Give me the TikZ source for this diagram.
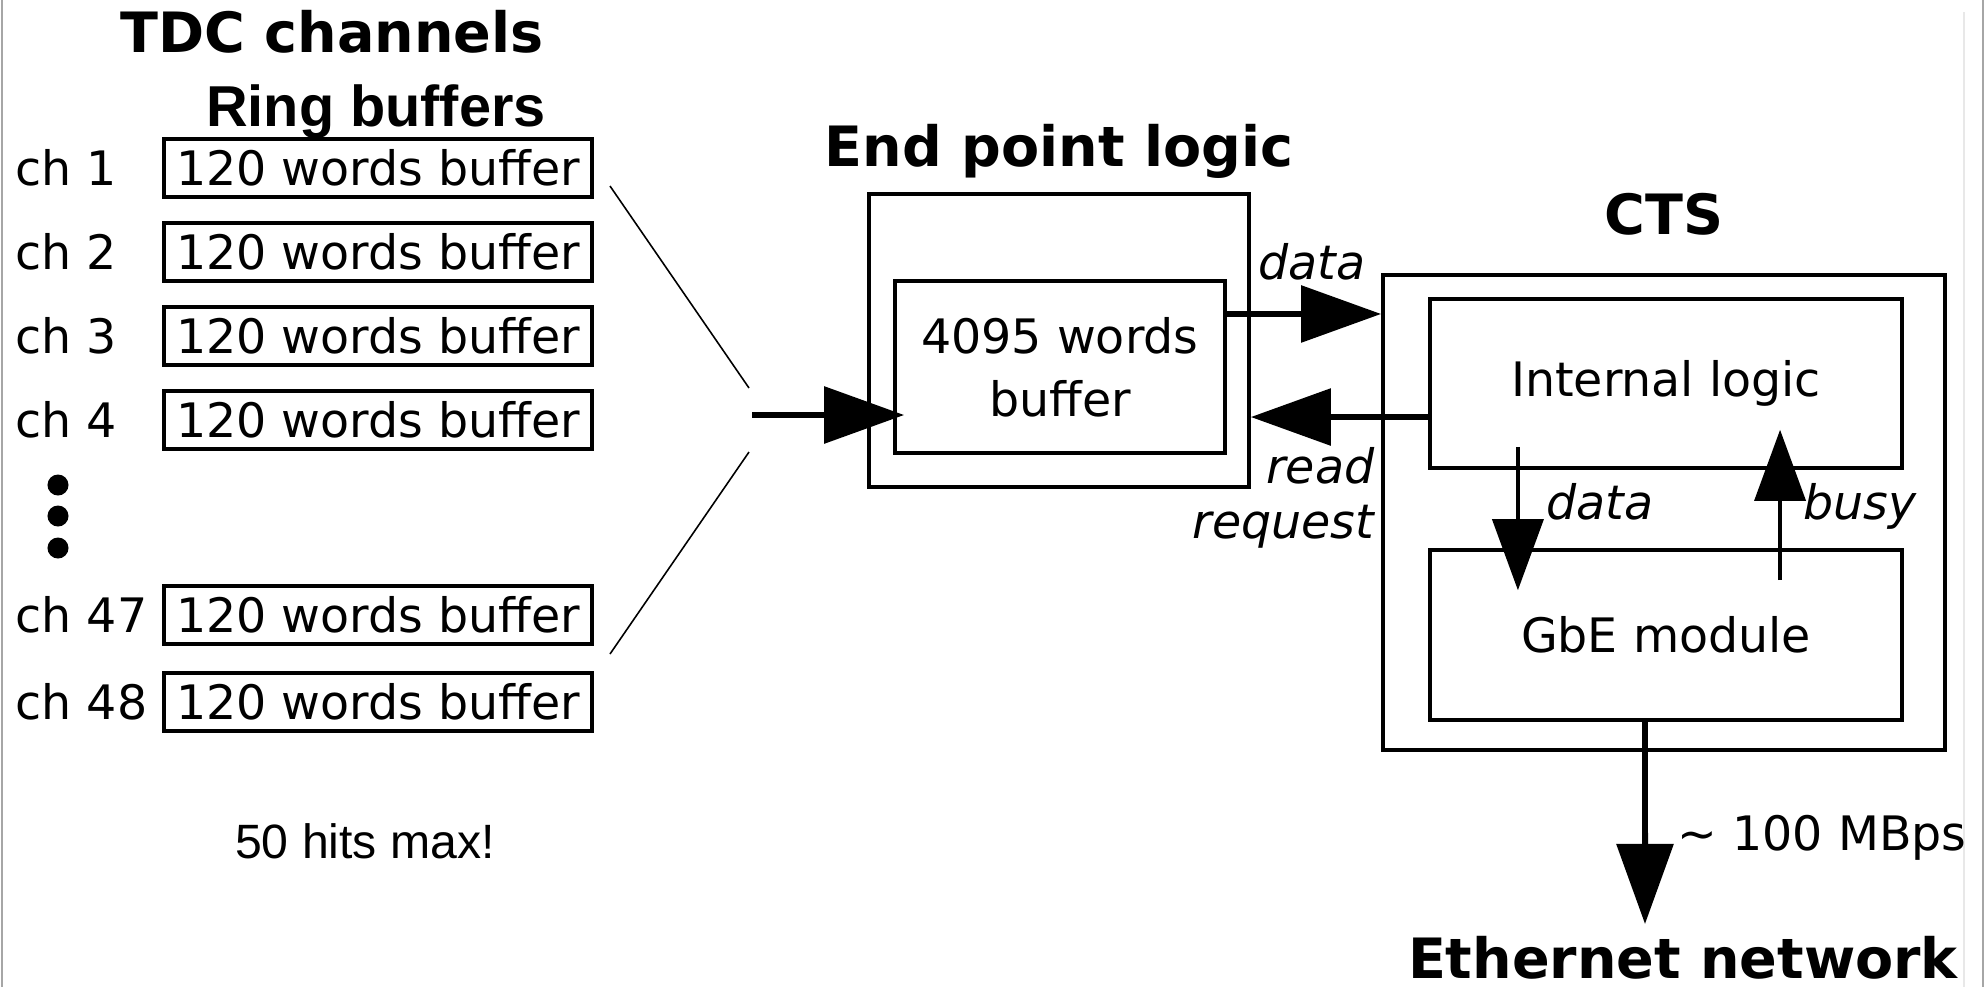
\documentclass[tikz,border=0pt]{standalone}
\usepackage{fontspec}
\setmainfont{DejaVu Sans}
\newfontfamily\arialfont{Liberation Sans}
\usetikzlibrary{arrows.meta}

\begin{document}
\begin{tikzpicture}[x=0.01cm,y=-0.01cm,
  lbl/.style={font=\fontsize{13.5}{16}\selectfont, inner sep=0},
  ilbl/.style={font=\fontsize{13.5}{16}\selectfont\itshape, inner sep=0},
  ttl/.style={font=\fontsize{15.8}{18}\selectfont\bfseries, inner sep=0},
  ringbox/.style={draw, line width=1pt, minimum width=4.28cm, minimum height=0.58cm,
    inner sep=0, font=\fontsize{13.5}{16}\selectfont},
  blk/.style={draw, line width=1pt, inner sep=0, font=\fontsize{13.5}{17}\selectfont, align=center},
  bigarrow/.style={line width=1.7pt, -{Triangle[length=0.8cm, width=0.56cm]}},
  smallarrow/.style={line width=1pt, -{Triangle[length=0.71cm, width=0.51cm]}},
  fan/.style={line width=0.45pt},
  dot/.style={circle, fill, inner sep=0, minimum size=0.18cm}
]
\useasboundingbox (0,0) rectangle (1984,987);

% frame edges
\draw[gray!70, line width=0.6pt] (2,0) -- (2,987);
\draw[gray!70, line width=0.6pt] (1983,0) -- (1983,987);
\draw[gray!18, line width=0.8pt] (1964,12) -- (1964,987);

% ---------- TDC channels and ring buffers ----------
\node[ttl, anchor=base] (tdcTitle) at (332,52) {TDC channels};
\node[inner sep=0, anchor=base, font=\fontsize{16.4}{19}\selectfont\arialfont\bfseries]
  (ringTitle) at (376,126) {Ring buffers};

\foreach \n/\y in {1/168,2/252,3/336,4/420,47/615,48/702} {
  \node[ringbox] (ring\n) at (378,\y) {120 words buffer};
  \node[lbl, anchor=base west] (ch\n) at (15,\y+17) {ch \n};
}

\node[dot, minimum width=0.18cm, minimum height=0.21cm] (dotA) at (58,485) {};
\node[dot, minimum width=0.18cm, minimum height=0.21cm] (dotB) at (58,516) {};
\node[dot, minimum width=0.18cm, minimum height=0.21cm] (dotC) at (58,548) {};

\node[inner sep=0, anchor=base, font=\fontsize{13.7}{16}\selectfont\arialfont]
  (hits) at (365,858) {50 hits max!};

% funnel lines towards the end point
\coordinate (fanTopA) at (610,186);
\coordinate (fanTopB) at (749,388);
\coordinate (fanBotA) at (749,452);
\coordinate (fanBotB) at (610,654);
\draw[fan] (fanTopA) -- (fanTopB);
\draw[fan] (fanBotA) -- (fanBotB);

% ---------- End point logic ----------
\node[ttl, anchor=base] (eplTitle) at (1059,166) {End point logic};
\node[blk, minimum width=3.8cm, minimum height=2.93cm] (epl) at (1059,340.5) {};
\node[blk, minimum width=3.3cm, minimum height=1.72cm] (buf) at (1060,367)
  {4095 words\\[1pt]buffer};

\coordinate (inStart) at (752,415);
\draw[bigarrow] (inStart) -- ([xshift=0.11cm]inStart -| buf.west);

% ---------- CTS ----------
\node[ttl, anchor=base] (ctsTitle) at (1664,234) {CTS};
\node[blk, minimum width=5.62cm, minimum height=4.75cm] (cts) at (1664,512.5) {};
\node[blk, minimum width=4.72cm, minimum height=1.69cm] (intl) at (1666,383.5) {Internal logic};
\node[blk, minimum width=4.72cm, minimum height=1.70cm] (gbe) at (1666,635) {GbE module};

% data from the end point buffer to the CTS
\draw[bigarrow] ([yshift=0.53cm]buf.east) -- ([yshift=0.53cm]buf.east -| cts.west);
\node[ilbl, anchor=base] (dataTop) at (1312,279) {data};

% read request from the CTS back to the end point
\draw[bigarrow] ([yshift=-0.335cm]intl.west) -- ([yshift=-0.335cm]intl.west -| epl.east);
\node[ilbl, anchor=base east] (readLbl) at (1375,483) {read};
\node[ilbl, anchor=base east] (reqLbl) at (1375,538) {request};

% internal data and busy signals
\draw[smallarrow] ([xshift=-1.48cm,yshift=0.23cm]intl.south) -- ([xshift=-1.48cm,yshift=-0.42cm]gbe.north);
\node[ilbl, anchor=base west] (dataMid) at (1546,519) {data};
\draw[smallarrow] ([xshift=1.14cm,yshift=-0.32cm]gbe.north) -- ([xshift=1.14cm,yshift=0.40cm]intl.south);
\node[ilbl, anchor=base west] (busyLbl) at (1803,519) {busy};

% output to the network
\coordinate (netTip) at (1645,924);
\draw[bigarrow] ([xshift=-0.21cm]gbe.south) -- (netTip);
\node[lbl, anchor=base west] (rate) at (1677,850) {∼ 100 MBps};
\node[ttl, anchor=base] (net) at (1683,978) {Ethernet network};

\end{tikzpicture}
\end{document}
